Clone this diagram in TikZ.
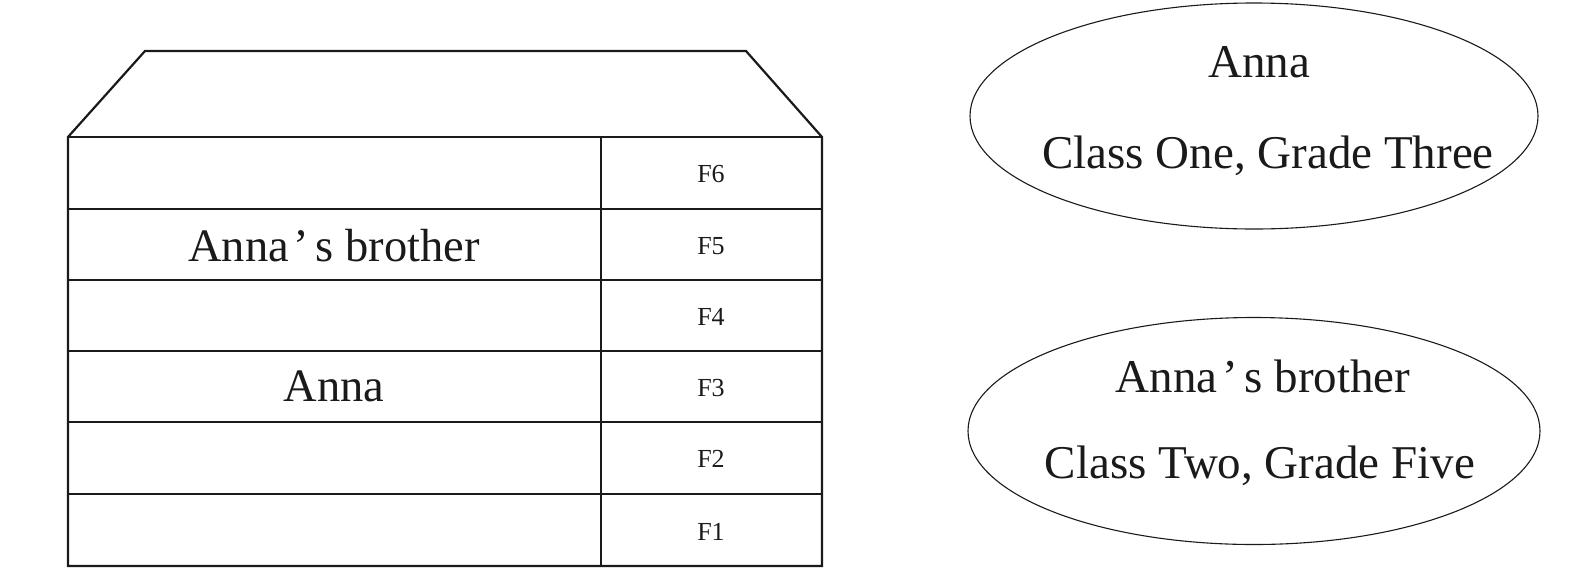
\documentclass[tikz,border=0pt]{standalone}
\usepackage{fontspec}
\setmainfont{Liberation Serif}
\usetikzlibrary{shapes.geometric}
\definecolor{ink}{HTML}{1A1A1A}
\newcommand{\apos}{\kern0.10em’\kern0.14em}
\begin{document}
\begin{tikzpicture}[x=1pt,y=-1pt,
  wall/.style={draw=ink,line width=2.2pt,line join=miter},
  bigtext/.style={font=\fontsize{47}{50}\selectfont,text=ink,inner sep=0pt,anchor=base},
  roomtext/.style={font=\fontsize{46.5}{50}\selectfont,text=ink,inner sep=0pt,anchor=base},
  floortext/.style={font=\fontsize{26}{28}\selectfont,text=ink,inner sep=0pt,anchor=base},
  tag/.style={draw=ink,line width=1.1pt,ellipse,inner sep=0pt}]
\useasboundingbox (0,0) rectangle (1571,582);
% building
\coordinate (bl) at (68,566);
\coordinate (br) at (822,566);
\coordinate (tl) at (68,137);
\coordinate (tr) at (822,137);
\coordinate (rl) at (145,51);
\coordinate (rr) at (746,51);
\coordinate (dt) at (601,137);
\coordinate (db) at (601,566);
\draw[wall] (tl) -- (rl) -- (rr) -- (tr) -- (br) -- (bl) -- cycle;
\draw[wall] (tl) -- (tr);
\draw[wall] (dt) -- (db);
\foreach \y in {209,280,351,422,494}{
  \draw[wall] (68,\y) -- (822,\y);
}
% floor labels
\node[floortext] (f6) at (711,182) {F6};
\node[floortext] (f5) at (711,254) {F5};
\node[floortext] (f4) at (711,325) {F4};
\node[floortext] (f3) at (711,396) {F3};
\node[floortext] (f2) at (711,467) {F2};
\node[floortext] (f1) at (711,540) {F1};
% room texts
\node[roomtext] (brotherroom) at (334,261) {Anna\apos s brother};
\node[roomtext] (annaroom) at (334,401) {Anna};
% ellipses
\node[tag,minimum width=568,minimum height=226] (e1) at (1254,116) {};
\node[bigtext] (e1a) at (1259,77) {Anna};
\node[bigtext] (e1b) at (1268,168) {Class One, Grade Three};
\node[tag,minimum width=572,minimum height=227] (e2) at (1254,431) {};
\node[bigtext] (e2a) at (1263,392) {Anna\apos s brother};
\node[bigtext] (e2b) at (1260,478) {Class Two, Grade Five};
\end{tikzpicture}
\end{document}
